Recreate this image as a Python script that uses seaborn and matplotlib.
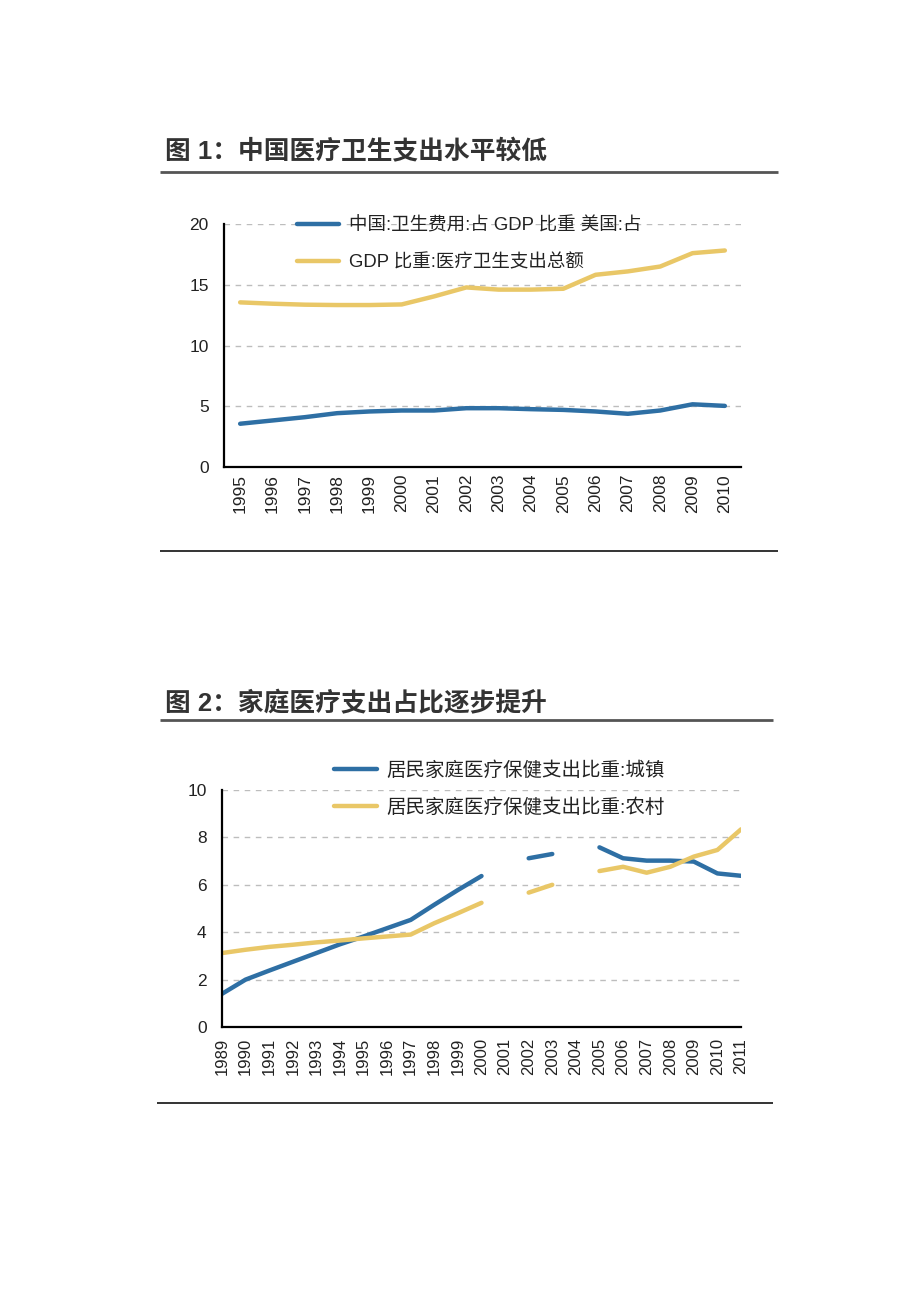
import numpy as np
import pandas as pd
import matplotlib
matplotlib.use("Agg")
import matplotlib.pyplot as plt
import seaborn as sns
from matplotlib.lines import Line2D

# ---------------- data ----------------
years1 = ["1995", "1996", "1997", "1998", "1999", "2000", "2001", "2002",
          "2003", "2004", "2005", "2006", "2007", "2008", "2009", "2010"]
china_health = [3.56, 3.83, 4.10, 4.43, 4.57, 4.65, 4.65, 4.84,
                4.84, 4.76, 4.70, 4.57, 4.38, 4.65, 5.16, 5.03]
usa_health = [13.55, 13.44, 13.36, 13.33, 13.33, 13.38, 14.04, 14.78,
              14.60, 14.60, 14.67, 15.82, 16.10, 16.50, 17.60, 17.82]
series1_labels = ["中国:卫生费用:占 GDP 比重 美国:占", "GDP 比重:医疗卫生支出总额"]

years2 = [str(y) for y in range(1989, 2012)]
urban = [1.40, 2.00, 2.38, 2.75, 3.12, 3.49, 3.82, 4.17, 4.52, 5.16, 5.78, 6.37,
         np.nan, 7.12, 7.30, np.nan, 7.58, 7.12, 7.02, 7.02, 6.98, 6.48, 6.38]
rural = [3.12, 3.26, 3.38, 3.47, 3.57, 3.65, 3.74, 3.82, 3.90, 4.38, 4.80, 5.24,
         np.nan, 5.67, 6.00, np.nan, 6.58, 6.76, 6.51, 6.76, 7.19, 7.47, 8.34]
series2_labels = ["居民家庭医疗保健支出比重:城镇", "居民家庭医疗保健支出比重:农村"]

title1 = "图 1：中国医疗卫生支出水平较低"
title2 = "图 2：家庭医疗支出占比逐步提升"

BLUE = "#2e6fa4"
YELLOW = "#e9c767"

sns.set_theme(style="white")
plt.rcParams['font.family'] = ['Liberation Sans', 'Noto Sans CJK SC', 'DejaVu Sans']
plt.rcParams['axes.unicode_minus'] = False

W, H = 920, 1302
fig = plt.figure(figsize=(W / 100, H / 100), dpi=100)
fig.patch.set_facecolor("white")


def fx(px):
    return px / W


def fy(py):
    return 1 - py / H


def hline(y, x0, x1, lw, color):
    fig.add_artist(Line2D([fx(x0), fx(x1)], [fy(y), fy(y)], transform=fig.transFigure,
                          color=color, lw=lw, solid_capstyle="butt"))


def style_axes(ax):
    for s in ["top", "right"]:
        ax.spines[s].set_visible(False)
    for s in ["left", "bottom"]:
        ax.spines[s].set_color("black")
        ax.spines[s].set_linewidth(1.6)
    ax.set_xlabel("")
    ax.set_ylabel("")
    ax.set_facecolor("white")


# ---------------- chart 1 ----------------
df1 = pd.DataFrame({
    "x": list(range(len(years1))) * 2,
    "value": china_health + usa_health,
    "series": [series1_labels[0]] * len(years1) + [series1_labels[1]] * len(years1),
})
ax1 = fig.add_axes([fx(224), fy(467), fx(741) - fx(224), fy(224) - fy(467)])
sns.lineplot(data=df1, x="x", y="value", hue="series",
             palette=[BLUE, YELLOW], linewidth=3.2, ax=ax1, legend=False)
ax1.set_xlim(-0.5, len(years1) - 0.5)
ax1.set_ylim(0, 20)
ax1.set_yticks([0, 5, 10, 15, 20])
for v in [5, 10, 15, 20]:
    ax1.axhline(v, color="#bdbdbd", lw=1.0, ls=(0, (4, 4)), zorder=0)
ax1.set_xticks(np.arange(-0.5, len(years1), 1.0))
ax1.set_xticklabels([])
ax1.set_xticks(range(len(years1)), minor=True)
ax1.set_xticklabels(years1, minor=True, rotation=90, fontsize=12.5, color="#222222")
ax1.tick_params(axis="x", which="major", direction="out", length=6, width=1.4, color="black")
ax1.tick_params(axis="x", which="minor", length=0, pad=5)
ax1.tick_params(axis="y", direction="out", length=5, width=1.4, color="black",
                labelsize=12.5, labelcolor="#222222", pad=6)
style_axes(ax1)
ax1.grid(False)
handles1 = [Line2D([0], [0], color=BLUE, lw=3.2), Line2D([0], [0], color=YELLOW, lw=3.2)]
fig.legend(handles1, series1_labels, loc="upper left",
           bbox_to_anchor=(fx(297), fy(217)), bbox_transform=fig.transFigure,
           frameon=False, fontsize=13.3, handlelength=2.3, handletextpad=0.5,
           labelspacing=1.05, borderpad=0, borderaxespad=0, labelcolor="#222222")

fig.text(fx(165), fy(152), title1, fontsize=18.5, color="#333333",
         va="center", ha="left", fontweight="bold")
hline(172, 160, 778, 2.0, "#555555")
hline(551, 160, 778, 1.4, "#333333")

# ---------------- chart 2 ----------------
def segments(vals):
    seg, out = 0, []
    for v in vals:
        if np.isnan(v):
            seg += 1
        out.append(seg)
    return out

df2 = pd.DataFrame({
    "x": list(range(len(years2))) * 2,
    "value": urban + rural,
    "series": [series2_labels[0]] * len(years2) + [series2_labels[1]] * len(years2),
    "seg": segments(urban) + [s + 100 for s in segments(rural)],
}).dropna()
ax2 = fig.add_axes([fx(222), fy(1027), fx(741) - fx(222), fy(790) - fy(1027)])
sns.lineplot(data=df2, x="x", y="value", hue="series", units="seg", estimator=None,
             palette=[BLUE, YELLOW], linewidth=3.2, ax=ax2, legend=False)
ax2.set_xlim(0, len(years2) - 1)
ax2.set_ylim(0, 10)
ax2.set_yticks([0, 2, 4, 6, 8, 10])
for v in [2, 4, 6, 8, 10]:
    ax2.axhline(v, color="#bdbdbd", lw=1.0, ls=(0, (4, 4)), zorder=0)
ax2.set_xticks(range(len(years2)))
ax2.set_xticklabels(years2, rotation=90, fontsize=12, color="#222222")
ax2.tick_params(axis="x", direction="out", length=6, width=1.4, color="black", pad=2)
ax2.tick_params(axis="y", direction="out", length=5, width=1.4, color="black",
                labelsize=12.5, labelcolor="#222222", pad=6)
style_axes(ax2)
ax2.grid(False)
handles2 = [Line2D([0], [0], color=BLUE, lw=3.2), Line2D([0], [0], color=YELLOW, lw=3.2)]
fig.legend(handles2, series2_labels, loc="upper left",
           bbox_to_anchor=(fx(334), fy(761)), bbox_transform=fig.transFigure,
           frameon=False, fontsize=14, handlelength=2.2, handletextpad=0.5,
           labelspacing=0.95, borderpad=0, borderaxespad=0, labelcolor="#222222")

fig.text(fx(165), fy(704), title2, fontsize=18.5, color="#333333",
         va="center", ha="left", fontweight="bold")
hline(720, 160, 773, 2.0, "#555555")
hline(1103, 157, 773, 1.4, "#333333")

fig.savefig("out.png", dpi=100, facecolor="white")
